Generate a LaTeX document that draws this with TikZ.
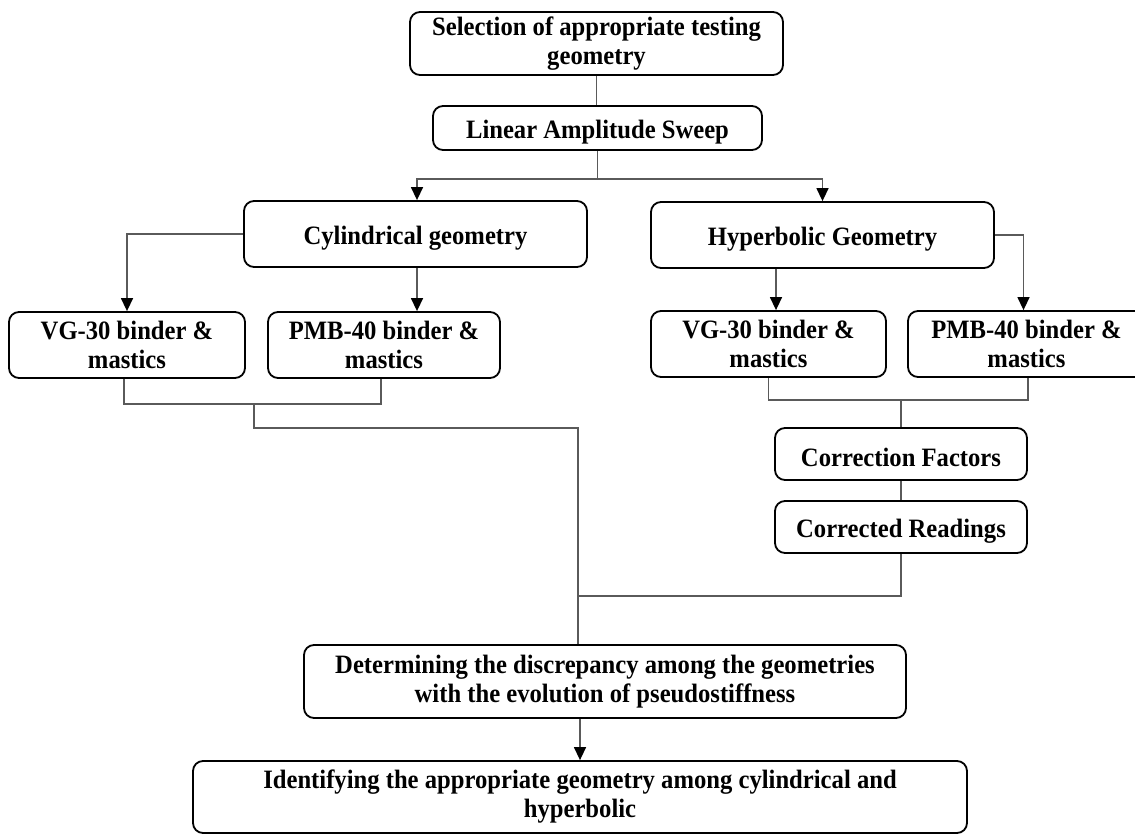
\documentclass[tikz,border=0pt]{standalone}
\usepackage{fontspec}
\setmainfont[FakeStretch=0.93]{Liberation Serif}
\usetikzlibrary{arrows.meta,calc}
\definecolor{conn}{HTML}{5A5A5A}
\begin{document}
\begin{tikzpicture}[x=1pt,y=-1pt,
  box/.style={draw=black,line width=1.8pt,rounded corners=10pt,align=center,
    font=\fontsize{26.5}{29}\selectfont\bfseries,inner sep=0pt,
    execute at begin node={\rule{0pt}{26pt}}},
  conn/.style={draw=conn,line width=1.4pt},
  arr/.style={conn,-{Triangle[width=12pt,length=13pt,color=black,fill=black]}}]
\useasboundingbox (0,0) rectangle (1135,835);
\fill[white] (0,0) rectangle (1135,835);
\node[box,minimum width=373pt,minimum height=63pt] (sel) at (596.5,43.5) {Selection of appropriate testing\\geometry};
\node[box,minimum width=329pt,minimum height=44pt] (las) at (597.5,128) {Linear Amplitude Sweep};
\node[box,minimum width=343pt,minimum height=66pt] (cyl) at (415.5,234) {Cylindrical geometry};
\node[box,minimum width=343pt,minimum height=66pt] (hyp) at (822.5,235) {Hyperbolic Geometry};
\node[box,minimum width=236pt,minimum height=66pt] (vgL) at (127,345) {VG-30 binder \&\\mastics};
\node[box,minimum width=232pt,minimum height=66pt] (pmbL) at (384,345) {PMB-40 binder \&\\mastics};
\node[box,minimum width=235pt,minimum height=66pt] (vgR) at (768.5,344) {VG-30 binder \&\\mastics};
\node[box,minimum width=237pt,minimum height=66pt] (pmbR) at (1026.5,344) {PMB-40 binder \&\\mastics};
\node[box,minimum width=252pt,minimum height=52pt] (cf) at (901,454) {Correction Factors};
\node[box,minimum width=252pt,minimum height=52pt] (cr) at (901,527) {Corrected Readings};
\node[box,minimum width=602pt,minimum height=73pt] (det) at (605,681.5) {Determining the discrepancy among the geometries\\with the evolution of pseudostiffness};
\node[box,minimum width=774pt,minimum height=72pt] (ide) at (580,797) {Identifying the appropriate geometry among cylindrical and\\hyperbolic};
% top connectors
\draw[conn] (sel.south) -- (sel.south |- las.north);
\coordinate (split) at ($(las.south)+(0,28)$);
\draw[conn] (las.south) -- (split);
\draw[arr] (split) -| ([xshift=1.5pt]cyl.north);
\draw[arr] (split) -| (hyp.north);
% cylindrical branches
\draw[arr] (cyl.west) -| (vgL.north);
\draw[arr] ([xshift=1.5pt]cyl.south) -- ([xshift=1.5pt]cyl.south |- pmbL.north);
% hyperbolic branches
\draw[arr] ([xshift=7.5pt]vgR.north |- hyp.south) -- ([xshift=7.5pt]vgR.north);
\draw[arr] (hyp.east) -| ([xshift=-3pt]pmbR.north);
% left join
\draw[conn] ([xshift=-3pt]vgL.south) -- ++(0,25) coordinate (jlL) -| ([xshift=-3pt]pmbL.south);
\coordinate (jlM) at ($(jlL)!0.5!(jlL -| pmbL.south)$);
\coordinate (mainx) at ([xshift=-2pt]ide.north);
\draw[conn] (jlM) -- ++(0,24) coordinate (jl2) -- (jl2 -| mainx) -- (mainx |- det.north);
% right join
\draw[conn] (vgR.south) -- ++(0,22) coordinate (jrL) -| ([xshift=1.5pt]pmbR.south);
\draw[conn] (cf.north) -- (cf.north |- jrL);
\draw[conn] (cf.south) -- (cr.north);
\draw[conn] (cr.south) -- ++(0,42) coordinate (crb) -- (crb -| mainx);
% bottom
\draw[arr] (ide.north |- det.south) -- (ide.north);
\end{tikzpicture}
\end{document}
